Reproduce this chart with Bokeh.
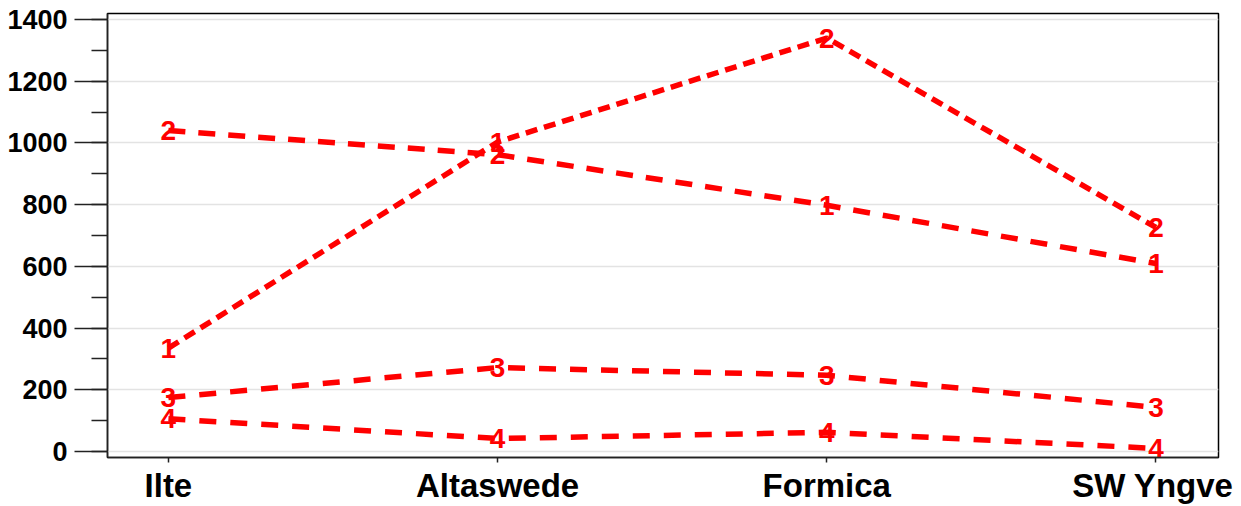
from bokeh.plotting import figure
from bokeh.models import Range1d, FixedTicker, SingleIntervalTicker, ColumnDataSource
from bokeh.core.properties import value
from bokeh.embed import file_html
from bokeh.resources import INLINE

categories = ["Ilte", "Altaswede", "Formica", "SW Yngve"]

line_a_values = [335, 1003, 1340, 726]
line_a_labels = ["1", "1", "2", "2"]
line_b_values = [1040, 962, 798, 609]
line_b_labels = ["2", "2", "1", "1"]
line_c_values = [175, 272, 247, 143]
line_c_labels = ["3", "3", "3", "3"]
line_d_values = [106, 42, 62, 10]
line_d_labels = ["4", "4", "4", "4"]

series = [
    (line_a_values, line_a_labels, "12 7"),
    (line_b_values, line_b_labels, "17 13"),
    (line_c_values, line_c_labels, "17 14"),
    (line_d_values, line_d_labels, "17 14"),
]

FONT = "Liberation Sans"
RED = "#ff0000"

p = figure(width=1233, height=506, output_backend="svg", toolbar_location=None,
           x_range=Range1d(-0.185, 3.19), y_range=Range1d(-19.5, 1419.5),
           min_border_left=107, min_border_right=15, min_border_top=13, min_border_bottom=10)

xs = list(range(len(categories)))
for vals, labs, dash in series:
    src = ColumnDataSource(dict(x=xs, y=vals, t=labs))
    p.line("x", "y", source=src, line_color=RED, line_width=5.5, line_dash=dash)
for vals, labs, dash in series:
    src = ColumnDataSource(dict(x=xs, y=vals, t=labs))
    p.text("x", "y", text="t", source=src, text_color=RED, text_font=value(FONT),
           text_font_style="bold", text_font_size="28px", text_align="center",
           text_baseline="middle")

p.outline_line_color="black"
p.outline_line_width=1.5
p.xgrid.grid_line_color=None
p.ygrid.grid_line_color="#e3e3e3"
p.ygrid.grid_line_width=1.5
p.background_fill_color="white"
p.border_fill_color="white"

p.xaxis.ticker = FixedTicker(ticks=xs)
p.xaxis.major_label_overrides = {i: c for i, c in enumerate(categories)}
p.xaxis.major_label_text_font = FONT
p.xaxis.major_label_text_font_style = "bold"
p.xaxis.major_label_text_font_size = "33px"
p.xaxis.major_label_text_color = "black"
p.xaxis.major_tick_out = 5
p.xaxis.major_tick_in = 0
p.xaxis.minor_tick_out = 0
p.xaxis.major_label_standoff = 4
p.xaxis.axis_line_width = 1.5
p.xaxis.major_tick_line_width = 1.5
p.xaxis.axis_line_color = "#222222"
p.xaxis.major_tick_line_color = "#222222"

p.yaxis.ticker = SingleIntervalTicker(interval=200, num_minor_ticks=2)
p.yaxis.major_label_text_font = FONT
p.yaxis.major_label_text_font_style = "bold"
p.yaxis.major_label_text_font_size = "27px"
p.yaxis.major_label_text_color = "black"
p.yaxis.major_tick_out = 33
p.yaxis.major_tick_in = 0
p.yaxis.minor_tick_out = 16
p.yaxis.minor_tick_in = 0
p.yaxis.major_label_standoff = 7
p.yaxis.axis_line_width = 1.5
p.yaxis.major_tick_line_width = 1.5
p.yaxis.minor_tick_line_width = 1.5
p.yaxis.axis_line_color = "#222222"
p.yaxis.major_tick_line_color = "#222222"
p.yaxis.minor_tick_line_color = "#222222"

open("out.html", "w").write(file_html(p, INLINE))
